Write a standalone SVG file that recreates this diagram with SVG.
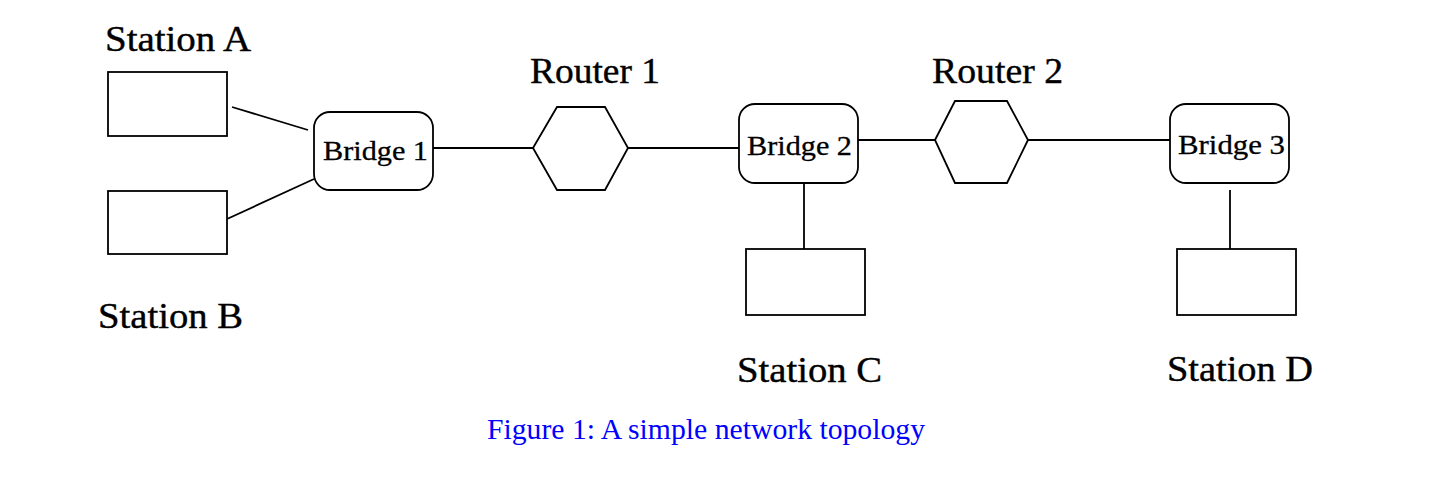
<svg xmlns="http://www.w3.org/2000/svg" width="1443" height="484" viewBox="0 0 1443 484">
<style>
.shape{fill:#fff;stroke:#000;stroke-width:1.8}
.conn line{stroke:#000;stroke-width:1.8}
.lbl{font-family:"Liberation Serif","Times New Roman",serif;font-size:36px;fill:#000;stroke:#000;stroke-width:0.4}
.blbl{font-family:"Liberation Serif","Times New Roman",serif;font-size:28px;fill:#000;stroke:#000;stroke-width:0.3}
.cap{font-family:"Liberation Serif","Times New Roman",serif;font-size:29px;fill:#0000ff}
</style>
<rect width="1443" height="484" fill="#fff"/>
<g id="connectors" class="conn">
<line x1="232" y1="107" x2="308" y2="130"/>
<line x1="227" y1="219" x2="314" y2="179"/>
<line x1="433" y1="148" x2="533" y2="148"/>
<line x1="628" y1="148" x2="739" y2="148"/>
<line x1="858" y1="140" x2="935" y2="140"/>
<line x1="1028" y1="140" x2="1170" y2="140"/>
<line x1="804" y1="183" x2="804" y2="249"/>
<line x1="1230" y1="190" x2="1230" y2="249"/>
</g>
<g id="stationA">
<rect class="shape" x="108" y="72" width="119" height="64"/>
<text class="lbl" x="105" y="51" textLength="146" lengthAdjust="spacingAndGlyphs">Station A</text>
</g>
<g id="stationB">
<rect class="shape" x="108" y="191" width="119" height="63"/>
<text class="lbl" x="98" y="328" textLength="145" lengthAdjust="spacingAndGlyphs">Station B</text>
</g>
<g id="bridge1">
<rect class="shape" x="314" y="112" width="119" height="78" rx="16" ry="16"/>
<text class="blbl" x="323" y="160" textLength="105" lengthAdjust="spacingAndGlyphs">Bridge 1</text>
</g>
<g id="router1">
<polygon class="shape" points="533,148 557,107 605,107 628,148 605,190 557,190"/>
<text class="lbl" x="530" y="83" textLength="130" lengthAdjust="spacingAndGlyphs">Router 1</text>
</g>
<g id="bridge2">
<rect class="shape" x="739" y="104" width="119" height="79" rx="16" ry="16"/>
<text class="blbl" x="747" y="155" textLength="105" lengthAdjust="spacingAndGlyphs">Bridge 2</text>
</g>
<g id="router2">
<polygon class="shape" points="935,140 955,101 1007,101 1028,140 1007,183 955,183"/>
<text class="lbl" x="932" y="83" textLength="131" lengthAdjust="spacingAndGlyphs">Router 2</text>
</g>
<g id="bridge3">
<rect class="shape" x="1170" y="104" width="119" height="79" rx="16" ry="16"/>
<text class="blbl" x="1178" y="154" textLength="107" lengthAdjust="spacingAndGlyphs">Bridge 3</text>
</g>
<g id="stationC">
<rect class="shape" x="746" y="249" width="119" height="66"/>
<text class="lbl" x="737" y="382" textLength="145" lengthAdjust="spacingAndGlyphs">Station C</text>
</g>
<g id="stationD">
<rect class="shape" x="1177" y="249" width="119" height="66"/>
<text class="lbl" x="1167" y="381" textLength="146" lengthAdjust="spacingAndGlyphs">Station D</text>
</g>
<g id="caption">
<text class="cap" x="487" y="439" textLength="438" lengthAdjust="spacingAndGlyphs">Figure 1: A simple network topology</text>
</g>
</svg>
